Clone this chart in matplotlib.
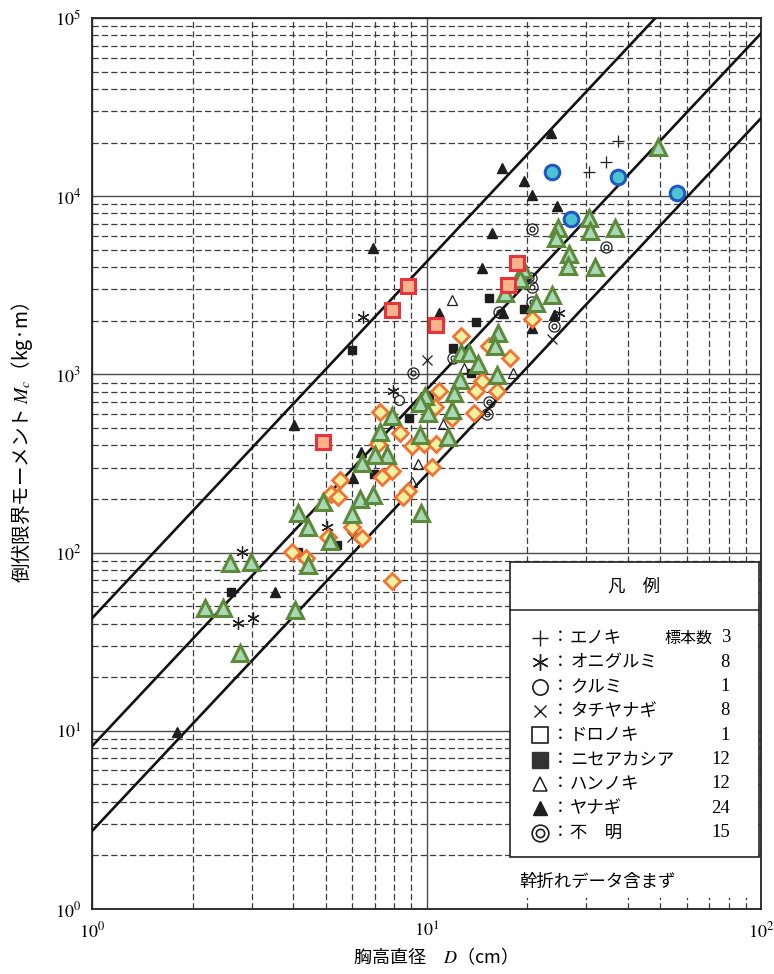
import matplotlib
matplotlib.use('Agg')
import matplotlib.pyplot as plt
from matplotlib.patches import Rectangle
from matplotlib.ticker import LogLocator, FuncFormatter, NullFormatter
import numpy as np

plt.rcParams['font.family'] = ['Noto Sans CJK JP', 'DejaVu Sans']
plt.rcParams['mathtext.fontset'] = 'stix'

# ---- values: D = 胸高直径 (cm), M = 倒伏限界モーメント (kg*m)
# black symbols (original survey)
enoki_d = [37.4, 34.5, 30.5]
enoki_m = [20400, 15600, 13700]

onigurumi_d = [6.44, 7.92, 5.03, 2.80, 2.73, 3.02, 24.9]
onigurumi_m = [2100, 812, 139, 101, 40.3, 43.0, 2210]

kurumi_d = [8.25]
kurumi_m = [718]

tachiyanagi_d = [10.0, 23.8, 5.97]
tachiyanagi_m = [1204, 1580, 122]

niseakashia_d = [5.97, 8.84, 6.95, 4.12, 2.60, 10.2, 15.4, 19.6, 14.1, 12.0, 13.6, 5.39]
niseakashia_m = [1371, 569, 276, 101, 60.1, 766, 2684, 2328, 1968, 1398, 1025, 110]

hannoki_d = [11.9, 12.9, 18.1, 9.40, 9.02, 11.2]
hannoki_m = [2616, 1086, 1025, 316, 249, 527]

yanagi_d = [6.90, 23.6, 16.8, 19.6, 20.7, 24.6, 15.7, 14.7, 10.9, 16.9, 24.1, 20.7,
            4.01, 6.35, 6.01, 3.52, 1.79]
yanagi_m = [5120, 22630, 14390, 12170, 10150, 8810, 6215, 3955, 2211, 2211, 2154, 1821,
            520, 367, 262, 60.1, 9.85]

fumei_d = [20.7, 34.5, 20.6, 20.7, 20.7, 24.1, 16.5, 12.0, 9.09, 15.4, 15.2]
fumei_m = [6545, 5186, 3475, 3094, 2549, 1869, 2240, 1236, 1025, 696, 599]

# coloured overlay series
green_d = [49.3, 30.5, 24.8, 30.9, 36.7, 24.4, 26.7, 26.4, 32.0, 19.4, 19.0, 17.2,
           23.8, 21.3, 16.4, 16.0, 12.7, 13.4, 14.3, 16.2, 12.6, 12.1, 9.93, 9.53,
           10.07, 11.9, 7.86, 7.24, 9.53, 11.6, 7.60, 7.00, 6.40, 4.89, 6.31, 6.90,
           9.66, 4.12, 5.97, 4.41, 5.13, 2.58, 2.98, 4.41, 2.18, 2.46, 4.04, 2.77]
green_m = [18880, 7545, 6630, 6376, 6630, 5828, 4738, 4058, 4006, 3904, 3430, 2862,
           2807, 2516, 1708, 1443, 1319, 1319, 1144, 999, 930, 786, 757, 691,
           607, 631, 584, 475, 457, 445, 353, 353, 318, 192, 200, 210,
           167, 167, 165, 139, 116, 87.4, 88.6, 85.2, 48.9, 48.9, 47.6, 27.3]

orange_d = [20.7, 12.7, 17.8, 15.4, 14.7, 14.1, 16.3, 10.9, 10.6, 11.9, 13.9, 7.24,
            8.31, 9.02, 9.80, 10.7, 7.14, 10.4, 7.86, 7.34, 8.78, 8.48, 5.50, 5.17,
            5.42, 5.97, 6.40, 5.06, 3.95, 4.35, 7.86]
orange_m = [2046, 1642, 1236, 1435, 924, 812, 812, 807, 656, 569, 607, 615,
            472, 397, 409, 409, 409, 304, 287, 266, 222, 205, 256, 213,
            204, 139, 121, 122, 101, 93.3, 69.3]

red_d = [8.78, 7.86, 10.7, 4.89, 18.6, 17.5]
red_m = [3155, 2298, 1893, 418, 4219, 3175]

blue_d = [23.8, 37.4, 56.2, 27.1]
blue_m = [13670, 12810, 10420, 7450]

# reference lines  M = c * D^2
line_coef = [42.8, 8.2, 2.74]
line_d = np.array([1.0, 100.0])

# legend table
legend_names = ['エノキ', 'オニグルミ', 'クルミ', 'タチヤナギ', 'ドロノキ',
                'ニセアカシア', 'ハンノキ', 'ヤナギ', '不　明']
legend_counts = ['3', '8', '1', '8', '1', '12', '12', '24', '15']

fig = plt.figure(figsize=(7.74, 9.74), dpi=100)
ax = fig.add_axes([0.1189, 0.0667, 0.8643, 0.9148])
ax.set_xscale('log')
ax.set_yscale('log')
ax.set_xlim(1, 100)
ax.set_ylim(1, 1e5)

for axis in (ax.xaxis, ax.yaxis):
    axis.set_major_locator(LogLocator(base=10, numticks=20))
    axis.set_minor_locator(LogLocator(base=10, subs=np.arange(2, 10), numticks=100))
    axis.set_minor_formatter(NullFormatter())
    axis.set_major_formatter(FuncFormatter(lambda v, p: r'$10^{%d}$' % round(np.log10(v))))

ax.grid(which='major', color='#4a4a4a', lw=1.0, ls='-', zorder=0)
ax.grid(which='minor', color='#3c3c3c', lw=0.9, ls=(0, (5, 2.5)), zorder=0)
ax.set_axisbelow(True)
ax.tick_params(which='both', length=0, labelsize=13)
ax.tick_params(axis='x', pad=9)
ax.tick_params(axis='y', pad=8)
for s in ax.spines.values():
    s.set_color('#222222')
    s.set_linewidth(1.3)

for c in line_coef:
    ax.plot(line_d, c * line_d ** 2, color='#111111', lw=1.9, zorder=3)

k = '#1e1e1e'
ax.plot(enoki_d, enoki_m, ls='none', marker='+', ms=8, mew=0.9, color=k, zorder=4)
ax.plot(onigurumi_d, onigurumi_m, ls='none', marker=(6, 2, 0), ms=9, mew=0.9, color=k, zorder=4)
ax.plot(kurumi_d, kurumi_m, ls='none', marker='o', ms=7, mfc='none', mew=0.9, color=k, zorder=4)
ax.plot(tachiyanagi_d, tachiyanagi_m, ls='none', marker='x', ms=7, mew=0.9, color=k, zorder=4)
ax.plot(niseakashia_d, niseakashia_m, ls='none', marker='s', ms=6, color=k, zorder=4)
ax.plot(hannoki_d, hannoki_m, ls='none', marker='^', ms=7.5, mfc='none', mew=0.9, color=k, zorder=4)
ax.plot(yanagi_d, yanagi_m, ls='none', marker='^', ms=6.5, color=k, zorder=4)
ax.plot(fumei_d, fumei_m, ls='none', marker='o', ms=8, mfc='none', mew=0.9, color=k, zorder=4)
ax.plot(fumei_d, fumei_m, ls='none', marker='o', ms=3.5, mfc='none', mew=0.9, color=k, zorder=4)

ax.plot(orange_d, orange_m, ls='none', marker='D', ms=8, mfc='#eef2a2', mec='#f27232', mew=2.0, zorder=5)
ax.plot(green_d, green_m, ls='none', marker='^', ms=12, mfc='#a9d8b6', mec='#5c8a3a', mew=2.2, zorder=5)
ax.plot(red_d, red_m, ls='none', marker='s', ms=10, mfc='#f8b38c', mec='#e8333d', mew=2.2, zorder=5)
ax.plot(blue_d, blue_m, ls='none', marker='o', ms=10.5, mfc='#4cc3d3', mec='#2058c0', mew=2.2, zorder=5)

# legend panel
bx0, bx1 = 0.6248, 0.997
ax.add_patch(Rectangle((bx0, 0.0123), bx1 - bx0, 0.3894 - 0.0123, transform=ax.transAxes,
                       fc='white', ec='none', zorder=8))
ax.add_patch(Rectangle((bx0, 0.0584), bx1 - bx0, 0.3894 - 0.0584, transform=ax.transAxes,
                       fill=False, ec='#222222', lw=1.2, zorder=9))
ax.plot([bx0, bx1], [0.3356, 0.3356], transform=ax.transAxes, color='#222222', lw=1.1, zorder=9)
ax.text((bx0 + bx1) / 2, 0.3625, '凡　例', transform=ax.transAxes, ha='center', va='center',
        fontsize=12.5, zorder=10)

sym_style = [dict(marker='+', ms=11, mew=1.0, color=k),
             dict(marker=(6, 2, 0), ms=12, mew=1.0, color=k),
             dict(marker='o', ms=11, mfc='none', mew=1.2, color=k),
             dict(marker='x', ms=9, mew=1.0, color=k),
             dict(marker='s', ms=11, mfc='none', mew=1.2, color=k),
             dict(marker='s', ms=12, color='#333333'),
             dict(marker='^', ms=10, mfc='none', mew=1.1, color=k),
             dict(marker='^', ms=10, color=k),
             dict(marker='o', ms=12, mfc='none', mew=1.2, color=k)]
for i, (name, cnt, st) in enumerate(zip(legend_names, legend_counts, sym_style)):
    y = 0.3042 - i * 0.0273
    ax.plot([0.6697], [y], transform=ax.transAxes, ls='none', zorder=10, clip_on=False, **st)
    if i == 8:
        ax.plot([0.6697], [y], transform=ax.transAxes, ls='none', marker='o', ms=6,
                mfc='none', mew=1.2, color=k, zorder=10)
    ax.text(0.6996, y, '：', transform=ax.transAxes, ha='center', va='center', fontsize=12, zorder=10)
    ax.text(0.7145, y, name, transform=ax.transAxes, ha='left', va='center', fontsize=12.5, zorder=10)
    ax.text(0.9537, y, cnt, transform=ax.transAxes, ha='right', va='center', fontsize=13.5,
            family=['Liberation Serif', 'Noto Sans CJK JP'], zorder=10)
ax.text(0.928, 0.3042, '標本数', transform=ax.transAxes, ha='right', va='center', fontsize=11.5, zorder=10)
ax.text(0.756, 0.0303, '幹折れデータ含まず', transform=ax.transAxes, ha='center', va='center',
        fontsize=12.5, zorder=10)

fig.text(0.5556, 0.0175, '胸高直径　$D$（cm）', ha='center', va='center', fontsize=13)
fig.text(0.028, 0.545, '倒伏限界モーメント $M_c$（kg·m）', ha='center', va='center',
         rotation=90, fontsize=14)

fig.savefig('out.png', dpi=100)
